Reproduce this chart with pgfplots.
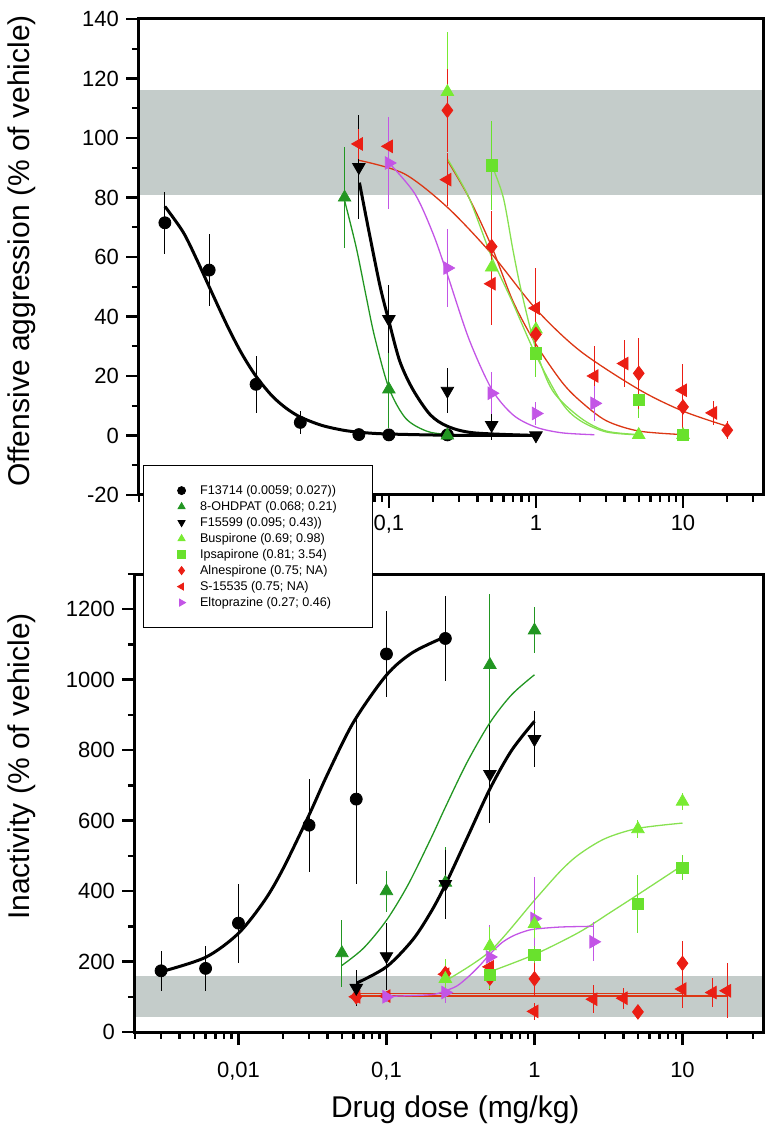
\documentclass[border=0pt]{standalone}
\usepackage{fontspec}
\setmainfont{Liberation Sans}
\usepackage{pgfplots}
\pgfplotsset{compat=1.18}

\definecolor{band}{RGB}{196,204,202}
\definecolor{dkgreen}{RGB}{34,150,34}
\definecolor{ltgreen}{RGB}{120,235,50}
\definecolor{ipsa}{RGB}{105,225,45}
\definecolor{curvegreen}{RGB}{135,225,80}
\definecolor{myred}{RGB}{235,30,20}
\definecolor{curvered}{RGB}{220,55,20}
\definecolor{violet}{RGB}{195,85,230}

\pgfplotsset{
  doseaxis/.style={
    scale only axis,
    axis on top,
    axis line style={line width=1.5pt},
    tick align=outside, xtick pos=bottom, ytick pos=left,
    major tick length=6.5pt, minor tick length=3.5pt,
    every tick/.style={black, line width=1.2pt},
    xtick={0.01,0.1,1,10}, xticklabels={{0,01},{0,1},1,10},
    minor xtick={0.002,0.003,0.004,0.005,0.006,0.007,0.008,0.009,
      0.02,0.03,0.04,0.05,0.06,0.07,0.08,0.09,
      0.2,0.3,0.4,0.5,0.6,0.7,0.8,0.9,
      2,3,4,5,6,7,8,9,20,30},
    tick label style={font=\fontsize{11}{13}\selectfont},
    label style={font=\fontsize{15}{18}\selectfont},
    /pgf/number format/assume math mode=true,
    /pgf/number format/1000 sep={},
  },
  pts/.style={only marks, mark size=3pt,
    error bars/y dir=both, error bars/y explicit,
    error bars/error mark=none,
    error bars/error bar style={line width=0.5pt}},
  fitthick/.style={no marks, smooth, line width=1.5pt, black, forget plot},
  fitthin/.style={no marks, smooth, line width=0.65pt, forget plot},
}

\begin{document}
\begin{tikzpicture}
\useasboundingbox (0,0) rectangle (386.5pt,568.5pt);

% ---------------- bottom panel: inactivity ----------------
\begin{axis}[doseaxis,
  xmode=log, xmin=0.002, xmax=35,
  at={(67.5pt,52.5pt)}, anchor=south west,
  width=314pt, height=229pt,
  ymin=0, ymax=1300,
  ytick={0,200,...,1200}, minor ytick={100,300,...,1300},
  xlabel={Drug dose (mg/kg)},
  ylabel={Inactivity (\% of vehicle)},
  xlabel style={at={(axis description cs:0.51,-0.17)}, anchor=center},
  ylabel style={at={(axis description cs:-0.18,0.58)}, anchor=center},
  xticklabel style={yshift=-5pt},
]
\addplot[fill=band, draw=none, forget plot] coordinates {(0.002,43) (35,43) (35,160) (0.002,160)} -- cycle;

\addplot[fitthin, curvered] coordinates {(0.0625,109) (10,109)};
\addplot[fitthin, curvered] coordinates {(0.0625,102) (20,102)};
\addplot[fitthin, curvegreen] coordinates {(0.25,145) (0.5,229) (1,374) (1.5,457) (2,504) (3,549) (5,578) (10,593)};
\addplot[fitthin, curvegreen] coordinates {(0.5,171) (1,220) (2,283) (3.3,341) (5,390) (10,473)};
\addplot[fitthin, violet] coordinates {(0.1,101) (0.2,106) (0.25,117) (0.3,131) (0.36,158) (0.43,190) (0.5,221) (0.6,253) (0.71,272) (0.85,285) (1,292) (1.5,298) (2.5,300)};
\addplot[fitthin, dkgreen] coordinates {(0.05,189) (0.07,238) (0.1,317) (0.14,418) (0.2,550) (0.25,638) (0.35,765) (0.5,878) (0.7,957) (1,1014)};
\addplot[fitthick] coordinates {(0.003,171) (0.006,212) (0.01,280) (0.015,373) (0.02,463) (0.03,616) (0.04,732) (0.06,880) (0.1,1013) (0.15,1077) (0.25,1122)};
\addplot[fitthick] coordinates {(0.0631,139) (0.1,185) (0.15,261) (0.2,341) (0.25,418) (0.35,550) (0.5,690) (0.7,799) (1,882)};

\addplot[pts, myred, mark=diamond*, mark size=3.6pt] table[y error index=2] {
0.0625 100 10
0.25 166 40
0.5 153 35
1 151 50
5 57 15
10 195 62
};
\addplot[pts, myred, mark=triangle*, mark size=3.6pt, mark options={rotate=90}] table[y error index=2] {
0.0625 100 20
0.1 102 15
0.25 164 40
0.5 185 35
1 58.5 25
2.5 93 40
4 96 30
10 122 55
16 112 40
20 117 78
};
\addplot[pts, violet, mark=triangle*, mark size=3.6pt, mark options={rotate=-90}] table[y error index=2] {
0.1 100 15
0.25 112 30
0.5 213 90
1 322 117
2.5 256 55
};
\addplot[pts, ipsa, mark=square*, mark size=2.8pt] table[y error index=2] {
0.5 161 40
1 219.5 25
5 363 83
10 466 35
};
\addplot[pts, ltgreen, mark=triangle*, mark size=3.6pt] table[y error index=2] {
0.25 151 55
0.5 244 55
1 307 40
5 576 25
10 654 25
};
\addplot[pts, dkgreen, mark=triangle*, mark size=3.6pt] table[y error index=2] {
0.05 224 95
0.1 400 58
0.25 424 100
0.5 1042 200
1 1140 65
};
\addplot[pts, black, mark=triangle*, mark size=3.6pt, mark options={rotate=180}] table[y error index=2] {
0.0625 125 50
0.1 215 95
0.25 420 98
0.5 732 140
1 831 80
};
\addplot[pts, black, mark=*] table[y error index=2] {
0.003 173.7 57
0.006 180.5 63
0.01 309 112
0.03 587 132
0.0625 661 240
0.1 1073 123
0.25 1117 120
};
\end{axis}

% ---------------- top panel: offensive aggression ----------------
\begin{axis}[doseaxis,
  xmode=log, xmin=0.002, xmax=35,
  at={(69.5pt,321pt)}, anchor=south west,
  width=312pt, height=238pt,
  ymin=-20, ymax=140,
  xticklabels={{},{0,1},1,10},
  ytick={-20,0,...,140}, minor ytick={-10,10,...,130},
  ylabel={Offensive aggression (\% of vehicle)},
  ylabel style={at={(axis description cs:-0.1875,0.513)}, anchor=center},
  legend cell align=left,
  legend style={at={(axis description cs:0.0064,0.063)}, anchor=north west,
    draw=black, line width=0.6pt, fill=white,
    font=\fontsize{6.3}{7.5}\selectfont,
    inner xsep=17pt, inner ysep=8.5pt, column sep=6.5pt,
    nodes={inner sep=0.75pt, text height=5pt, text depth=1.5pt}},
  legend image code/.code={\draw[mark repeat=2, mark phase=2, #1] plot coordinates {(-4pt,0pt) (0pt,0pt) (4pt,0pt)};},
  legend image post style={mark size=2pt, line width=0.4pt},
]
\addplot[fill=band, draw=none, forget plot] coordinates {(0.002,81) (35,81) (35,116) (0.002,116)} -- cycle;

\addplot[fitthin, curvered] coordinates {(0.0625,92.5) (0.127,88) (0.25,76.7) (0.5,61) (1,42.5) (2,28.4) (5,15.5) (10,8.2) (20,3.1)};
\addplot[fitthin, curvered] coordinates {(0.25,92.5) (0.35,80) (0.5,63.5) (0.7,45) (1,30.7) (1.5,18) (2,11.6) (3,5) (5,1.5) (10,0.3)};
\addplot[fitthin, curvegreen] coordinates {(0.25,93) (0.35,80) (0.5,60) (0.69,45) (1,27) (1.5,11) (2,5) (3,1.2) (5,0.2)};
\addplot[fitthin, curvegreen] coordinates {(0.5,91) (0.6,80) (0.7,62) (0.8,48) (1,29) (1.3,15) (2,6) (3,1.5) (5,0.3)};
\addplot[fitthin, violet] coordinates {(0.1,91.7) (0.15,81.3) (0.2,67.8) (0.25,54.1) (0.35,32.5) (0.5,15.6) (0.7,6.9) (1,2.8) (1.5,0.9) (2.5,0.25)};
\addplot[fitthin, dkgreen] coordinates {(0.05,79) (0.06,63.2) (0.07,46.9) (0.08,33.2) (0.1,16) (0.13,5.8) (0.18,1.5) (0.25,0.4) (0.5,0)};
\addplot[fitthick] coordinates {(0.003,77) (0.004,68.3) (0.005,58.6) (0.006,50) (0.008,36.7) (0.01,27.5) (0.0125,19.9) (0.016,13.4) (0.02,9.2) (0.025,6.2) (0.035,3.4) (0.05,1.7) (0.07,0.9) (0.1,0.5) (0.25,0.1) (1,0)};
\addplot[fitthick] coordinates {(0.0631,85) (0.0736,68) (0.0873,50) (0.1,38.5) (0.1186,25) (0.1455,15.5) (0.191,7) (0.25,3.1) (0.377,0.9) (1,0)};

\addplot[pts, black, mark=*] table[y error index=2] {
0.003 71.5 10.5
0.006 55.6 12
0.0125 17.2 9.5
0.025 4.4 4
0.0625 0.3 0
0.1 0.2 0
0.25 0.2 0
};
\addlegendentry{F13714 (0.0059; 0.027))}
\addplot[pts, dkgreen, mark=triangle*, mark size=3.6pt] table[y error index=2] {
0.05 80 17
0.1 15.5 13
0.25 0 0
};
\addlegendentry{8-OHDPAT (0.068; 0.21)}
\addplot[pts, black, mark=triangle*, mark size=3.6pt, mark options={rotate=180}] table[y error index=2] {
0.0625 90.2 17.5
0.1 39.1 11.5
0.25 15 7.6
0.5 3.5 5
1 0 0
};
\addlegendentry{F15599 (0.095; 0.43))}
\addplot[pts, ltgreen, mark=triangle*, mark size=3.6pt] table[y error index=2] {
0.25 115.5 20
0.5 56.5 17
1 35.7 8
5 0.2 0
10 0.2 0
};
\addlegendentry{Buspirone (0.69; 0.98)}
\addplot[pts, ipsa, mark=square*, mark size=2.8pt] table[y error index=2] {
0.5 90.8 15
1 27.6 8
5 11.9 6
10 0.3 0
};
\addlegendentry{Ipsapirone (0.81; 3.54)}
\addplot[pts, myred, mark=diamond*, mark size=3.6pt] table[y error index=2] {
0.25 109.3 14
0.5 63.5 12
1 34 8
5 20.9 12
10 9.6 8
20 1.8 3
};
\addlegendentry{Alnespirone (0.75; NA)}
\addplot[pts, myred, mark=triangle*, mark size=3.6pt, mark options={rotate=90}] table[y error index=2] {
0.0625 98 5
0.1 97.2 4
0.25 86 9
0.5 51 14
1 42.8 13.5
2.5 20 10
4 24.2 8
10 15.2 9
16 7.6 4
};
\addlegendentry{S-15535 (0.75; NA)}
\addplot[pts, violet, mark=triangle*, mark size=3.6pt, mark options={rotate=-90}] table[y error index=2] {
0.1 91.6 15.5
0.25 56.3 13
0.5 14.2 7
1 7.4 4
2.5 10.8 6
};
\addlegendentry{Eltoprazine (0.27; 0.46)}
\end{axis}
\end{tikzpicture}
\end{document}
